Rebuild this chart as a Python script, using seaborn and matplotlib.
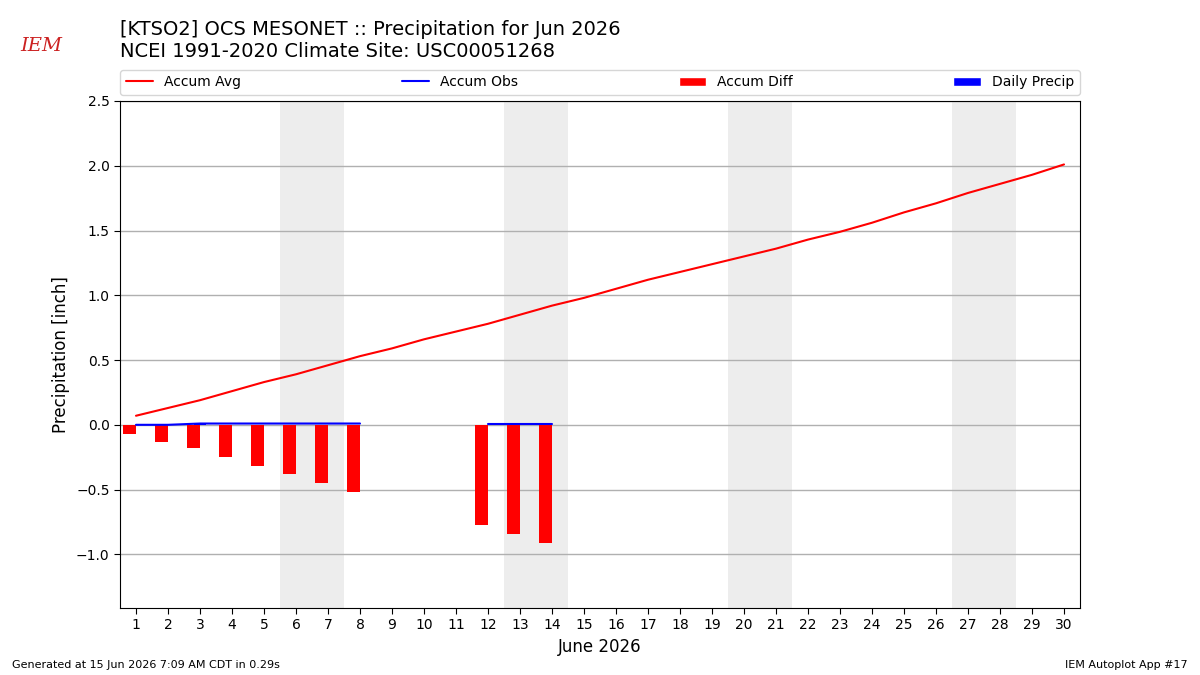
import numpy as np
import pandas as pd
import seaborn as sns
import matplotlib.pyplot as plt
from matplotlib.lines import Line2D
from matplotlib.patches import Patch

days = list(range(1, 31))
accum_avg = [0.07, 0.13, 0.19, 0.26, 0.33, 0.39, 0.46, 0.53, 0.59, 0.66,
             0.72, 0.78, 0.85, 0.92, 0.98, 1.05, 1.12, 1.18, 1.24, 1.30,
             1.36, 1.43, 1.49, 1.56, 1.64, 1.71, 1.79, 1.86, 1.93, 2.01]
obs_days = [1, 2, 3, 4, 5, 6, 7, 8, 12, 13, 14]
accum_obs = [0.0, 0.0, 0.01, 0.01, 0.01, 0.01, 0.01, 0.01, 0.01, 0.01, 0.01]
accum_diff = [-0.07, -0.13, -0.18, -0.25, -0.32, -0.38, -0.45, -0.52, -0.77, -0.84, -0.91]
daily_precip = [0.0, 0.0, 0.01, 0.0, 0.0, 0.0, 0.0, 0.0, 0.0, 0.0, 0.0]
weekends = [(6, 7), (13, 14), (20, 21), (27, 28)]

sns.set_style("white")
plt.rcParams['font.family'] = ['DejaVu Sans']
plt.rcParams.update({"text.color": "black", "axes.labelcolor": "black",
                     "xtick.color": "black", "ytick.color": "black"})

fig = plt.figure(figsize=(12, 6.75), dpi=100)
ax = fig.add_axes([0.1, 0.0993, 0.8, 0.7511])

for a, b in weekends:
    ax.axvspan(a - 0.5, b + 0.5, color="#ededed", zorder=0, lw=0)

avg_df = pd.DataFrame({"day": days, "avg": accum_avg})
sns.lineplot(data=avg_df, x="day", y="avg", color="r", ax=ax, lw=1.5, zorder=3)

obs_df = pd.DataFrame({"day": obs_days, "obs": accum_obs,
                       "diff": accum_diff, "daily": daily_precip})
# break line where days are missing
obs_df["seg"] = (obs_df["day"].diff().fillna(1) > 1).cumsum()
for _, seg in obs_df.groupby("seg"):
    sns.lineplot(data=seg, x="day", y="obs", color="b", ax=ax, lw=1.5, zorder=4)

obs_df["xbar"] = obs_df["day"] - 0.2
sns.barplot(data=obs_df, x="xbar", y="diff", native_scale=True, width=0.4,
            color="r", saturation=1, errorbar=None, ax=ax, zorder=2, linewidth=0)
sns.barplot(data=obs_df, x="day", y="daily", native_scale=True, width=0.4,
            color="b", saturation=1, errorbar=None, ax=ax, zorder=2, linewidth=0)

ax.set_xlim(0.5, 30.5)
ax.set_ylim(-1.414, 2.5)
ax.set_xticks(days)
ax.set_xticklabels([str(d) for d in days], fontsize=10)
ax.set_yticks(np.arange(-1.0, 2.51, 0.5))
ax.tick_params(axis="both", labelsize=10, length=4, left=True, bottom=True)
ax.grid(axis="y", color="#b0b0b0", lw=1)
ax.set_axisbelow(True)
for s in ax.spines.values():
    s.set_color("black")
ax.set_xlabel("June 2026", fontsize=12)
ax.set_ylabel("Precipitation [inch]", fontsize=12)

handles = [Line2D([], [], color="r", lw=1.5), Line2D([], [], color="b", lw=1.5),
           Patch(facecolor="r"), Patch(facecolor="b")]
ax.legend(handles, ["Accum Avg", "Accum Obs", "Accum Diff", "Daily Precip"],
          loc="lower left", bbox_to_anchor=(0, 1.012, 1, 0.05), mode="expand",
          ncol=4, borderaxespad=0, fontsize=10, frameon=True)

fig.text(0.1, 0.97, "[KTSO2] OCS MESONET :: Precipitation for Jun 2026\n"
         "NCEI 1991-2020 Climate Site: USC00051268", fontsize=14, va="top", ha="left")
fig.text(0.017, 0.932, "IEM", fontsize=14, color="#cc2222", family="DejaVu Serif",
         style="italic", va="center")
fig.text(0.01, 0.01, "Generated at 15 Jun 2026 7:09 AM CDT in 0.29s", fontsize=8)
fig.text(0.99, 0.01, "IEM Autoplot App #17", fontsize=8, ha="right")

fig.savefig("out.png", dpi=100)
